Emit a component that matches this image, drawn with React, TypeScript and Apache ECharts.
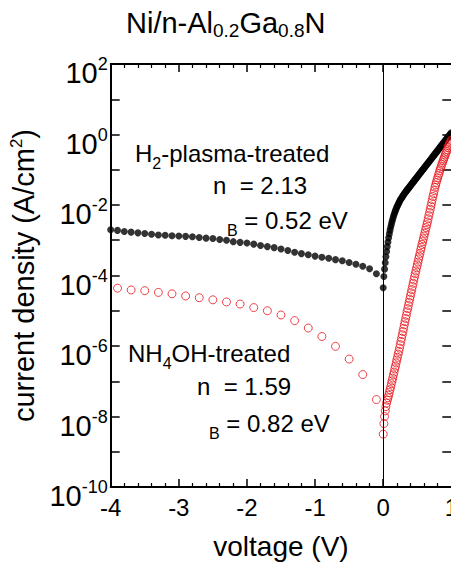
import React, { useEffect, useRef } from 'react';
import * as echarts from 'echarts';

const FONT = 'Liberation Sans, Arial, Helvetica, sans-serif';

// x tick range
const xMin = -4;
const xMax = 1;
// y range (A/cm^2)
const yMin = 1e-10;
const yMax = 1e2;

// H2-plasma-treated, reverse sweep (V)
const reverseVoltageH2 = [
  -4.0, -3.9, -3.8, -3.7, -3.6, -3.5, -3.4, -3.3, -3.2, -3.1,
  -3.0, -2.9, -2.8, -2.7, -2.6, -2.5, -2.4, -2.3, -2.2, -2.1,
  -2.0, -1.9, -1.8, -1.7, -1.6, -1.5, -1.4, -1.3, -1.2, -1.1,
  -1.0, -0.9, -0.8, -0.7, -0.6, -0.5, -0.4, -0.3, -0.2, -0.1,
];
// log10 of current density (A/cm^2)
const logJH2Reverse = [
  -2.70, -2.72, -2.75, -2.77, -2.79, -2.81, -2.83, -2.85, -2.86, -2.87,
  -2.88, -2.89, -2.90, -2.92, -2.94, -2.95, -2.98, -3.00, -3.04, -3.06,
  -3.08, -3.11, -3.15, -3.18, -3.21, -3.25, -3.29, -3.34, -3.38, -3.41,
  -3.45, -3.48, -3.51, -3.55, -3.58, -3.63, -3.68, -3.74, -3.81, -3.95,
];

// forward sweep voltages (V), shared by both samples
const forwardVoltage = [
  0.00, 0.01, 0.02, 0.03, 0.04, 0.05, 0.06, 0.07, 0.08, 0.09,
  0.10, 0.11, 0.12, 0.13, 0.14, 0.15, 0.16, 0.17, 0.18, 0.19,
  0.20, 0.21, 0.22, 0.23, 0.24, 0.25, 0.26, 0.27, 0.28, 0.29,
  0.30, 0.31, 0.32, 0.33, 0.34, 0.35, 0.36, 0.37, 0.38, 0.39,
  0.40, 0.41, 0.42, 0.43, 0.44, 0.45, 0.46, 0.47, 0.48, 0.49,
  0.50, 0.51, 0.52, 0.53, 0.54, 0.55, 0.56, 0.57, 0.58, 0.59,
  0.60, 0.61, 0.62, 0.63, 0.64, 0.65, 0.66, 0.67, 0.68, 0.69,
  0.70, 0.71, 0.72, 0.73, 0.74, 0.75, 0.76, 0.77, 0.78, 0.79,
  0.80, 0.81, 0.82, 0.83, 0.84, 0.85, 0.86, 0.87, 0.88, 0.89,
  0.90, 0.91, 0.92, 0.93, 0.94, 0.95, 0.96, 0.97, 0.98, 0.99,
  1.00,
];
const logJH2Forward = [
  -4.35, -4.03, -3.82, -3.64, -3.47, -3.32, -3.18, -3.05, -2.93, -2.82,
  -2.72, -2.63, -2.55, -2.47, -2.40, -2.33, -2.27, -2.21, -2.16, -2.11,
  -2.06, -2.02, -1.98, -1.94, -1.90, -1.86, -1.83, -1.80, -1.77, -1.74,
  -1.71, -1.68, -1.65, -1.63, -1.60, -1.58, -1.55, -1.53, -1.50, -1.48,
  -1.45, -1.43, -1.40, -1.38, -1.35, -1.33, -1.30, -1.28, -1.25, -1.23,
  -1.20, -1.18, -1.15, -1.13, -1.10, -1.08, -1.05, -1.03, -1.00, -0.98,
  -0.95, -0.93, -0.90, -0.88, -0.85, -0.83, -0.80, -0.78, -0.75, -0.73,
  -0.70, -0.68, -0.65, -0.63, -0.60, -0.58, -0.55, -0.53, -0.50, -0.48,
  -0.45, -0.43, -0.40, -0.38, -0.35, -0.33, -0.30, -0.28, -0.25, -0.23,
  -0.20, -0.18, -0.15, -0.13, -0.10, -0.08, -0.05, -0.03, 0.00, 0.02,
  0.05,
];

// NH4OH-treated, reverse sweep (V)
const reverseVoltageNH4OH = [
  -3.9, -3.7, -3.5, -3.3, -3.1, -2.9, -2.7, -2.5, -2.3, -2.1,
  -1.9, -1.7, -1.5, -1.3, -1.1, -0.9, -0.7, -0.5, -0.3, -0.1,
];
const logJNH4OHReverse = [
  -4.36, -4.41, -4.43, -4.48, -4.52, -4.58, -4.63, -4.69, -4.75, -4.81,
  -4.91, -5.00, -5.12, -5.28, -5.49, -5.73, -6.01, -6.37, -6.81, -7.52,
];
const logJNH4OHForward = [
  -8.50, -8.20, -8.00, -7.84, -7.72, -7.62, -7.54, -7.47, -7.40, -7.32,
  -7.24, -7.16, -7.07, -6.99, -6.91, -6.82, -6.74, -6.65, -6.57, -6.48,
  -6.40, -6.32, -6.23, -6.15, -6.06, -5.96, -5.87, -5.78, -5.68, -5.59,
  -5.50, -5.40, -5.31, -5.22, -5.13, -5.03, -4.94, -4.85, -4.76, -4.67,
  -4.58, -4.49, -4.40, -4.31, -4.22, -4.13, -4.04, -3.95, -3.87, -3.78,
  -3.70, -3.62, -3.53, -3.45, -3.37, -3.28, -3.20, -3.12, -3.04, -2.96,
  -2.88, -2.80, -2.72, -2.64, -2.56, -2.48, -2.39, -2.30, -2.21, -2.12,
  -2.03, -1.94, -1.85, -1.76, -1.68, -1.59, -1.50, -1.43, -1.36, -1.29,
  -1.23, -1.16, -1.10, -1.03, -0.97, -0.91, -0.85, -0.80, -0.74, -0.69,
  -0.64, -0.58, -0.53, -0.48, -0.43, -0.37, -0.32, -0.28, -0.24, -0.20,
  -0.16,
];

const toPairs = (xs: number[], logs: number[]) =>
  xs.map((x, i) => [x, Math.pow(10, logs[i])]);

const h2Data = [
  ...toPairs(reverseVoltageH2, logJH2Reverse),
  ...toPairs(forwardVoltage, logJH2Forward),
];
const nh4ohData = [
  ...toPairs(reverseVoltageNH4OH, logJNH4OHReverse),
  ...toPairs(forwardVoltage, logJNH4OHForward),
];

const RED = '#e8141a';

const axisLineStyle = { color: '#000', width: 2 };
const tickStyle = { color: '#000', width: 1.5 };

const xAxisBase = {
  type: 'value',
  min: xMin,
  max: xMax,
  interval: 1,
  axisLine: { show: true, onZero: false, lineStyle: axisLineStyle },
  axisTick: { show: true, inside: true, length: 8, lineStyle: tickStyle },
  minorTick: { show: true, splitNumber: 5, length: 4, lineStyle: { color: '#000', width: 1.2 } },
  splitLine: { show: false },
  minorSplitLine: { show: false },
};

const yAxisBase = {
  type: 'log',
  logBase: 10,
  min: yMin,
  max: yMax,
  interval: 1,
  axisLine: { show: true, onZero: false, lineStyle: axisLineStyle },
  axisTick: { show: true, inside: true, length: 9, lineStyle: tickStyle },
  minorTick: { show: false },
  splitLine: { show: false },
  minorSplitLine: { show: false },
};

const mainRich = (size: number, lh: number) => ({
  fontSize: size,
  fontFamily: FONT,
  fill: '#000',
  color: '#000',
  lineHeight: lh,
  verticalAlign: 'middle',
});
const subRich = (size: number, lh: number) => ({
  fontSize: size,
  fontFamily: FONT,
  fill: '#000',
  color: '#000',
  lineHeight: lh,
  verticalAlign: 'bottom',
});

const annotation = (x: number, y: number, text: string) => ({
  type: 'text',
  x,
  y,
  silent: true,
  style: {
    text,
    align: 'left',
    verticalAlign: 'middle',
    fill: '#000',
    rich: {
      n: mainRich(24, 36),
      s: subRich(16, 15),
    },
  },
});

const option = {
  animation: false,
  backgroundColor: '#fff',
  grid: { left: 110, top: 64, right: 8, bottom: 80, containLabel: false },
  xAxis: [
    {
      ...xAxisBase,
      position: 'bottom',
      axisLabel: { color: '#000', fontSize: 24, fontFamily: FONT, margin: 8 },
      name: 'voltage (V)',
      nameLocation: 'middle',
      nameGap: 45,
      nameTextStyle: { color: '#000', fontSize: 28, fontFamily: FONT },
    },
    {
      ...xAxisBase,
      position: 'top',
      axisLabel: { show: false },
    },
  ],
  yAxis: [
    {
      ...yAxisBase,
      position: 'left',
      axisLabel: {
        color: '#000',
        margin: 3,
        padding: [18, 0, 0, 0],
        verticalAlign: 'middle',
        formatter: (v: number) => {
          const e = Math.round(Math.log10(v));
          return e % 2 === 0 ? `{b|10}{s|${e}}` : '';
        },
        rich: {
          b: { fontSize: 29, fontFamily: FONT, color: '#000', lineHeight: 36, verticalAlign: 'middle' },
          s: { fontSize: 18, fontFamily: FONT, color: '#000', lineHeight: 12, verticalAlign: 'top' },
        },
      },
      name: '{n|current density (A/cm}{s|2}{n|)}',
      nameLocation: 'middle',
      nameGap: 64,
      nameTextStyle: {
        color: '#000',
        rich: {
          n: { fontSize: 29, fontFamily: FONT, color: '#000', lineHeight: 32, verticalAlign: 'middle' },
          s: { fontSize: 17, fontFamily: FONT, color: '#000', lineHeight: 12, verticalAlign: 'top' },
        },
      },
    },
    {
      ...yAxisBase,
      position: 'right',
      axisLabel: { show: false },
    },
  ],
  graphic: [
    {
      type: 'text',
      x: 126,
      y: 23,
      silent: true,
      style: {
        text: '{n|Ni/n-Al}{s|0.2}{n|Ga}{s|0.8}{n|N}',
        align: 'left',
        verticalAlign: 'middle',
        fill: '#000',
        rich: {
          n: mainRich(29, 34),
          s: subRich(19, 17),
        },
      },
    },
    annotation(135, 153, '{n|H}{s|2}{n|-plasma-treated}'),
    annotation(213, 185, '{n|n  = 2.13}'),
    annotation(227, 220, '{s|B}{n| = 0.52 eV}'),
    annotation(128, 353, '{n|NH}{s|4}{n|OH-treated}'),
    annotation(197, 386, '{n|n  = 1.59}'),
    annotation(209, 423, '{s|B}{n| = 0.82 eV}'),
  ],
  series: [
    {
      name: 'H2-plasma-treated',
      type: 'scatter',
      xAxisIndex: 0,
      yAxisIndex: 0,
      symbol: 'circle',
      symbolSize: 7,
      itemStyle: { color: '#000' },
      data: h2Data,
      markLine: {
        silent: true,
        symbol: ['none', 'none'],
        label: { show: false },
        lineStyle: { color: '#000', width: 1, type: 'solid' },
        data: [{ xAxis: 0 }],
      },
    },
    {
      name: 'NH4OH-treated',
      type: 'scatter',
      xAxisIndex: 0,
      yAxisIndex: 0,
      symbol: 'circle',
      symbolSize: 8,
      itemStyle: { color: 'rgba(0,0,0,0)', borderColor: RED, borderWidth: 1 },
      data: nh4ohData,
    },
  ],
};

export default function App() {
  const ref = useRef<HTMLDivElement>(null);
  useEffect(() => {
    if (!ref.current) return;
    const chart = echarts.init(ref.current, null, { renderer: 'svg' });
    chart.setOption(option as any);
    return () => chart.dispose();
  }, []);
  return (
    <div
      style={{
        position: 'fixed',
        left: 0,
        top: 0,
        width: 451,
        height: 567,
        overflow: 'hidden',
        background: '#fff',
      }}
    >
      <div ref={ref} style={{ width: 461, height: 567 }} />
    </div>
  );
}
